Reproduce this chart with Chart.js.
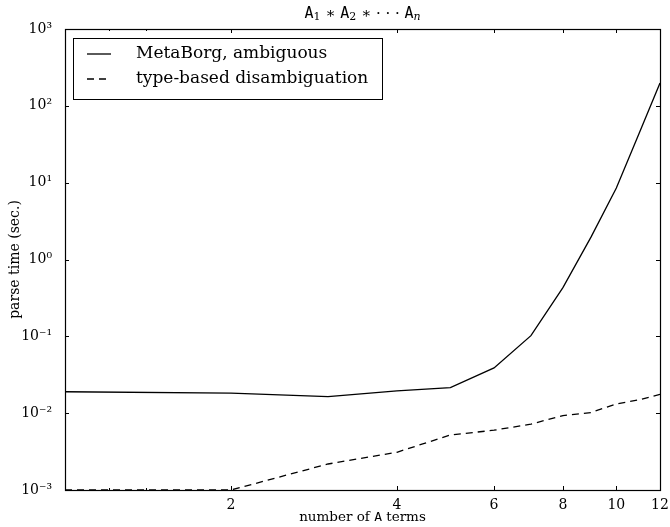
<!DOCTYPE html>
<html>
<head>
<meta charset="utf-8">
<script src="https://cdn.jsdelivr.net/npm/chart.js@4/dist/chart.umd.min.js"></script>
<style>
  html, body { margin: 0; padding: 0; background: #fff; }
  #wrap { width: 670px; height: 527px; }
</style>
</head>
<body>
<div id="wrap"><canvas id="chart"></canvas></div>
<script>
var terms = [1, 2, 3, 4, 5, 6, 7, 8, 9, 10, 11, 12];
var ambiguousTimes = [0.019, 0.0182, 0.0164, 0.0195, 0.0215, 0.0388, 0.102, 0.43, 1.97, 8.5, 44, 198];
var typeBasedTimes = [0.001, 0.001, 0.00218, 0.0031, 0.0052, 0.006, 0.0072, 0.0093, 0.0102, 0.0132, 0.0149, 0.0176];
var seriesNames = ["MetaBorg, ambiguous", "type-based disambiguation"];
var xTickValues = [2, 4, 6, 8, 10, 12];
var xMinorTicks = [1.2, 1.4];
var yTickValues = [1e-3, 1e-2, 1e-1, 1e0, 1e1, 1e2, 1e3];

var serif = "'DejaVu Serif', serif";
var mono = "'DejaVu Sans Mono', monospace";
var sup = { "-": "\u207B", "0": "\u2070", "1": "\u00B9", "2": "\u00B2", "3": "\u00B3" };

function powerLabel(v) {
    var e = Math.round(Math.log10(v));
    return "10" + String(e).split("").map(c => sup[c]).join("");
}

function toPoints(values) {
    return values.map((v, i) => ({ x: terms[i], y: v }));
}

// pieces of text drawn one after another, each with its own font
function drawRun(ctx, parts, cx, baseline) {
    let total = 0;
    parts.forEach(p => { ctx.font = p.font; total += ctx.measureText(p.text).width; });
    let x = cx - total / 2;
    parts.forEach(p => {
        ctx.font = p.font;
        ctx.fillText(p.text, x, baseline + (p.dy || 0));
        x += ctx.measureText(p.text).width;
    });
}

// matplotlib style: inward ticks on all four sides, a frame, the legend box and labels
var decorations = {
    id: "decorations",
    afterDatasetsDraw(chart) {
        const ctx = chart.ctx;
        const area = chart.chartArea;
        const xs = chart.scales.x;
        const ys = chart.scales.y;
        ctx.save();
        ctx.strokeStyle = "#000";
        ctx.lineWidth = 1;
        ctx.setLineDash([]);

        ctx.beginPath();
        xTickValues.forEach(v => {
            const px = Math.round(xs.getPixelForValue(v)) + 0.5;
            ctx.moveTo(px, area.bottom); ctx.lineTo(px, area.bottom - 4);
            ctx.moveTo(px, area.top); ctx.lineTo(px, area.top + 4);
        });
        xMinorTicks.forEach(v => {
            const px = Math.round(xs.getPixelForValue(v)) + 0.5;
            ctx.moveTo(px, area.bottom); ctx.lineTo(px, area.bottom - 2);
            ctx.moveTo(px, area.top); ctx.lineTo(px, area.top + 2);
        });
        yTickValues.forEach(v => {
            const py = Math.round(ys.getPixelForValue(v)) + 0.5;
            ctx.moveTo(area.left, py); ctx.lineTo(area.left + 4, py);
            ctx.moveTo(area.right, py); ctx.lineTo(area.right - 4, py);
        });
        ctx.stroke();
        ctx.lineWidth = 1.2;
        ctx.strokeRect(Math.round(area.left) + 0.5, Math.round(area.top) + 0.5,
            Math.round(area.right - area.left), Math.round(area.bottom - area.top));
        ctx.lineWidth = 1;

        // legend
        const lx = area.left + 8, ly = area.top + 9, lw = 309, lh = 61;
        ctx.fillStyle = "#fff";
        ctx.fillRect(lx, ly, lw, lh);
        ctx.strokeRect(Math.round(lx) + 0.5, Math.round(ly) + 0.5, lw, lh);
        ctx.font = "17px " + serif;
        ctx.textBaseline = "middle";
        ctx.textAlign = "left";
        chart.data.datasets.forEach((ds, i) => {
            const cy = ly + 16 + i * 25;
            ctx.beginPath();
            ctx.setLineDash(ds.borderDash || []);
            ctx.lineWidth = ds.borderWidth;
            ctx.moveTo(lx + 14, cy);
            ctx.lineTo(lx + 38, cy);
            ctx.stroke();
            ctx.setLineDash([]);
            ctx.fillStyle = "#000";
            ctx.fillText(ds.label, lx + 63, cy);
        });

        // title: A1 * A2 * ... An
        const cx = (area.left + area.right) / 2;
        const big = "15px " + mono, small = "11px " + serif, op = "15px " + serif;
        ctx.textBaseline = "alphabetic";
        ctx.fillStyle = "#000";
        drawRun(ctx, [
            { text: "A", font: big }, { text: "1", font: small, dy: 2 },
            { text: " \u2217 ", font: op },
            { text: "A", font: big }, { text: "2", font: small, dy: 2 },
            { text: " \u2217 \u00B7 \u00B7 \u00B7 ", font: op },
            { text: "A", font: big }, { text: "n", font: "italic " + small, dy: 2 }
        ], cx, 18);

        // x axis label with monospace A
        drawRun(ctx, [
            { text: "number of ", font: "13.5px " + serif },
            { text: "A", font: "13px " + mono },
            { text: " terms", font: "13.5px " + serif }
        ], cx, 521);

        // y axis label
        ctx.translate(19, (area.top + area.bottom) / 2);
        ctx.rotate(-Math.PI / 2);
        ctx.textAlign = "center";
        ctx.font = "14px " + serif;
        ctx.fillText("parse time (sec.)", 0, 0);
        ctx.restore();
    }
};

new Chart(document.getElementById("chart"), {
    type: "line",
    data: {
        datasets: [
            {
                label: seriesNames[0],
                data: toPoints(ambiguousTimes),
                borderColor: "#000",
                borderWidth: 1.3,
                pointRadius: 0,
                tension: 0
            },
            {
                label: seriesNames[1],
                data: toPoints(typeBasedTimes),
                borderColor: "#000",
                borderWidth: 1.3,
                borderDash: [7, 5],
                pointRadius: 0,
                tension: 0
            }
        ]
    },
    options: {
        responsive: true,
        maintainAspectRatio: false,
        animation: false,
        layout: { padding: { top: 29, right: 10, left: 0, bottom: 0 } },
        plugins: {
            legend: { display: false },
            title: { display: false },
            tooltip: { enabled: false }
        },
        scales: {
            x: {
                type: "logarithmic",
                min: 1,
                max: 12,
                afterBuildTicks: scale => { scale.ticks = xTickValues.map(v => ({ value: v })); },
                afterFit: scale => { scale.height = 37; },
                ticks: {
                    color: "#000",
                    font: { family: serif, size: 14 },
                    padding: -1,
                    maxRotation: 0,
                    autoSkip: false,
                    callback: v => String(v)
                },
                grid: { display: false },
                border: { display: false }
            },
            y: {
                type: "logarithmic",
                min: 1e-3,
                max: 1e3,
                afterBuildTicks: scale => { scale.ticks = yTickValues.map(v => ({ value: v })); },
                afterFit: scale => { scale.width = 65; },
                ticks: {
                    color: "#000",
                    font: { family: serif, size: 14 },
                    padding: 5,
                    autoSkip: false,
                    callback: v => powerLabel(v)
                },
                grid: { display: false },
                border: { display: false }
            }
        }
    },
    plugins: [decorations]
});
</script>
</body>
</html>
